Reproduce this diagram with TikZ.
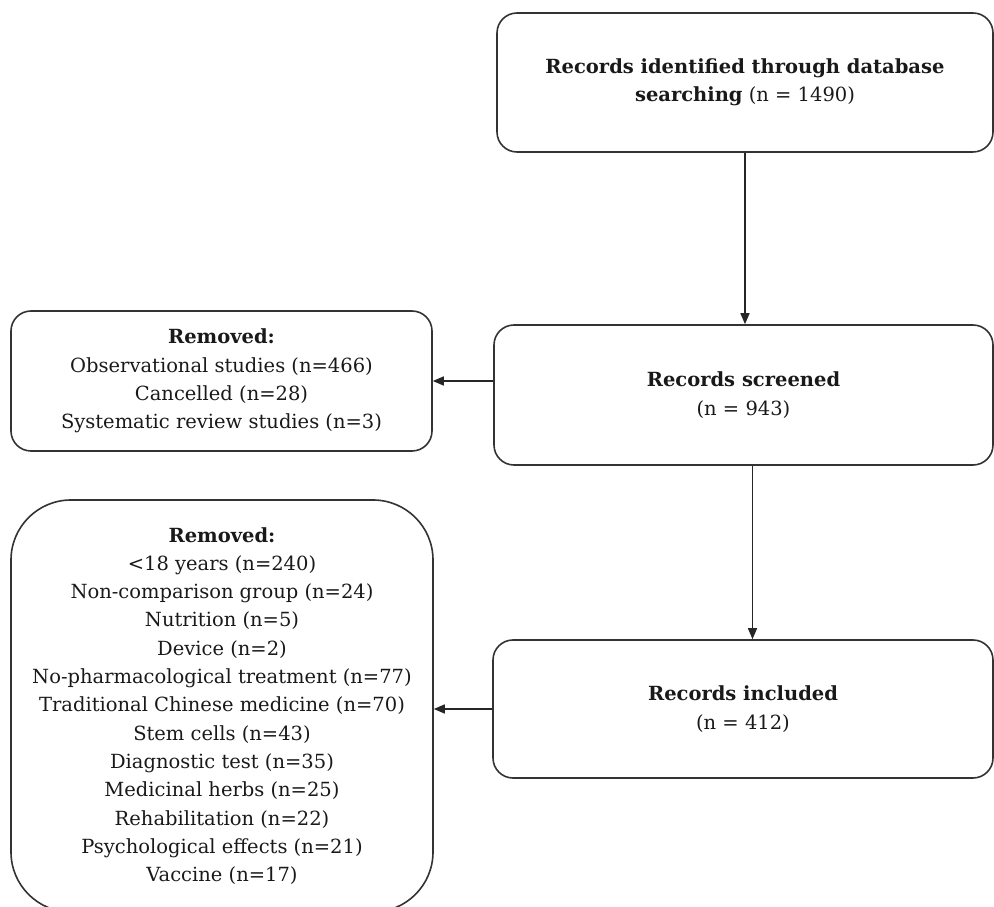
\documentclass[tikz,border=0pt]{standalone}
\usepackage{fontspec}
\setmainfont{DejaVu Serif}
\usetikzlibrary{arrows.meta}
\tikzset{
  box/.style={draw=black!80,line width=1.6pt,rounded corners=20pt,align=center,
    text=black!90,inner sep=0pt,font=\fontsize{19.5}{28.3}\selectfont},
  arr/.style={draw=black!85,line width=1.6pt,-{Triangle[length=11pt,width=9pt]}}
}
\begin{document}
\begin{tikzpicture}[x=1pt,y=1pt]
\useasboundingbox (0,0) rectangle (994,906);
\node[box,minimum width=496pt,minimum height=139pt] (ident) at (745,823.5)
  {\textbf{Records identified through database}\\\textbf{searching} (n = 1490)};
\node[box,minimum width=499pt,minimum height=140pt] (screen) at (743.5,511)
  {\textbf{Records screened}\\(n = 943)};
\node[box,minimum width=500pt,minimum height=138pt] (incl) at (743,197)
  {\textbf{Records included}\\(n = 412)};
\node[box,minimum width=421pt,minimum height=140pt] (remA) at (221.5,525)
  {\textbf{Removed:}\\Observational studies (n=466)\\Cancelled (n=28)\\Systematic review studies (n=3)};
\node[box,rounded corners=60pt,minimum width=422pt,minimum height=412pt] (remB) at (222,200)
  {\textbf{Removed:}\\<18 years (n=240)\\Non-comparison group (n=24)\\Nutrition (n=5)\\Device (n=2)\\
   No-pharmacological treatment (n=77)\\Traditional Chinese medicine (n=70)\\Stem cells (n=43)\\
   Diagnostic test (n=35)\\Medicinal herbs (n=25)\\Rehabilitation (n=22)\\Psychological effects (n=21)\\Vaccine (n=17)};
\draw[arr] (ident.south) -- (ident.south |- screen.north);
\draw[arr] ([xshift=9pt]screen.south) -- ([xshift=9pt]screen.south |- incl.north);
\draw[arr] (remA.east -| screen.west) -- (remA.east);
\draw[arr] (incl.west) -- (incl.west -| remB.east);
\end{tikzpicture}
\end{document}
